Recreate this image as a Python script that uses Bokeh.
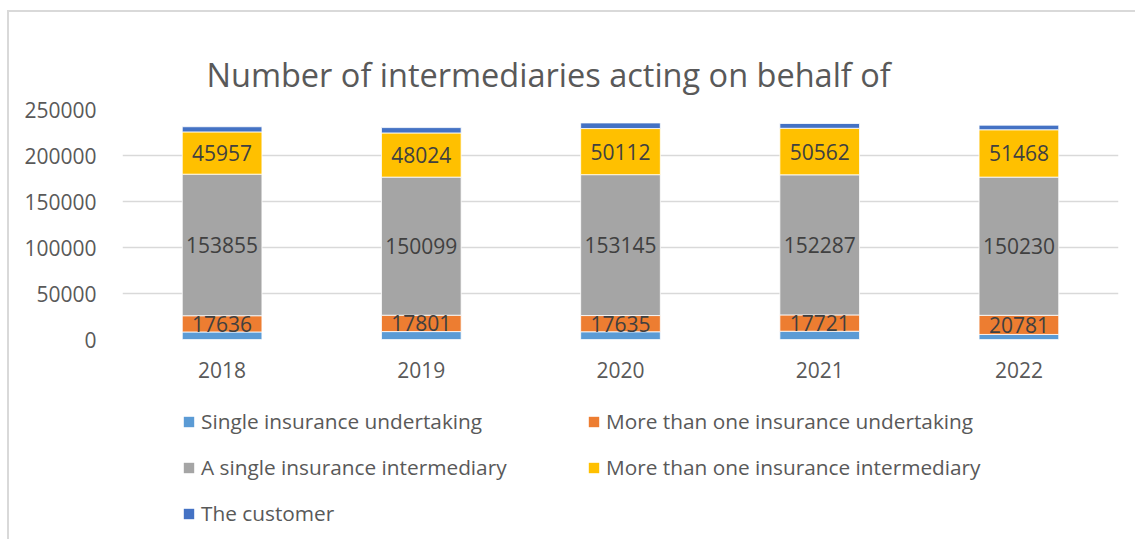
from bokeh.plotting import figure
from bokeh.models import (ColumnDataSource, FixedTicker, Range1d, FactorRange, Legend,
                          LegendItem, LabelSet, Title)
from bokeh.layouts import column
from bokeh.core.properties import value
from bokeh.embed import file_html
from bokeh.resources import INLINE

years = ["2018", "2019", "2020", "2021", "2022"]
single_undertaking = [8200, 8600, 8400, 9000, 5500]
more_undertaking = [17636, 17801, 17635, 17721, 20781]
single_intermediary = [153855, 150099, 153145, 152287, 150230]
more_intermediary = [45957, 48024, 50112, 50562, 51468]
customer = [5600, 5800, 6100, 5200, 5000]

series_names = ["Single insurance undertaking", "More than one insurance undertaking",
                "A single insurance intermediary", "More than one insurance intermediary",
                "The customer"]
keys = ["su", "mu", "si", "mi", "cu"]
colors = ["#5B9BD5", "#ED7D31", "#A5A5A5", "#FFC000", "#4472C4"]
y_ticks = [0, 50000, 100000, 150000, 200000, 250000]

FONT = "Open Sans"

data = dict(years=years, su=single_undertaking, mu=more_undertaking,
            si=single_intermediary, mi=more_intermediary, cu=customer)
source = ColumnDataSource(data)

p = figure(x_range=FactorRange(*years), y_range=Range1d(0, 250000),
           frame_width=996, frame_height=230, output_backend="svg", toolbar_location=None,
           min_border_left=113, min_border_right=17, min_border_top=97,
           min_border_bottom=50)

renderers = p.vbar_stack(keys, x="years", width=0.4, color=colors, source=source,
                         line_color="white", line_width=0.8)

# labels centred in segments
cum = [0] * len(years)
label_cols = {}
stacks = [single_undertaking, more_undertaking, single_intermediary, more_intermediary, customer]
for k, vals in zip(keys, stacks):
    mids = [c + v / 2 for c, v in zip(cum, vals)]
    cum = [c + v for c, v in zip(cum, vals)]
    label_cols[k] = mids

for k, vals in zip(["mu", "si", "mi"], [more_undertaking, single_intermediary, more_intermediary]):
    ls_src = ColumnDataSource(dict(x=years, y=label_cols[k], t=[str(v) for v in vals]))
    p.add_layout(LabelSet(x="x", y="y", text="t", source=ls_src, text_align="center",
                          text_baseline="middle", text_font=value(FONT),
                          text_font_size=value("21px"), text_color=value("#404040")))

p.yaxis.ticker = FixedTicker(ticks=y_ticks)
p.yaxis.axis_line_color = None
p.yaxis.major_tick_line_color = None
p.yaxis.minor_tick_line_color = None
p.yaxis.major_label_standoff = 20
p.yaxis.major_label_text_font = FONT
p.yaxis.major_label_text_font_size = "21px"
p.yaxis.major_label_text_color = "#595959"
p.yaxis.formatter.use_scientific = False

p.xaxis.axis_line_color = None
p.xaxis.major_tick_line_color = None
p.xaxis.minor_tick_line_color = None
p.xaxis.major_label_standoff = 16
p.xaxis.major_label_text_font = FONT
p.xaxis.major_label_text_font_size = "21px"
p.xaxis.major_label_text_color = "#595959"

p.xgrid.grid_line_color = None
p.ygrid.grid_line_color = "#d9d9d9"
p.ygrid.grid_line_width = 1.5
p.outline_line_color = None

title = Title(text="Number of intermediaries acting on behalf of", align="left", offset=84,
              text_font=FONT, text_font_size="32.5px", text_font_style="normal",
              text_color="#595959", standoff=25)
p.add_layout(title, "above")

# legend figure: same series styles on a zero-size helper row, so only the legend shows
helper = ColumnDataSource(dict(years=[years[0]], su=[0], mu=[0], si=[0], mi=[0], cu=[0]))
pl = figure(x_range=FactorRange(*years), y_range=Range1d(-2, -1),
            width=1126, height=150, output_backend="svg", toolbar_location=None,
            min_border=0, min_border_left=0, min_border_right=0, min_border_top=0,
            min_border_bottom=0)
pl.axis.visible = False
pl.grid.visible = False
pl.outline_line_color = None
leg_renderers = pl.vbar_stack(keys, x="years", width=0, fill_color=colors,
                              line_alpha=0, source=helper)

items = [LegendItem(label=n, renderers=[r]) for n, r in zip(series_names, leg_renderers)]
legend = Legend(items=items, ncols=2, location=(60, 12), orientation="horizontal",
                glyph_width=13, glyph_height=13, label_standoff=6, label_width=368,
                spacing=18, padding=0, margin=0, border_line_color=None,
                background_fill_alpha=0, label_text_font=FONT, label_text_font_size="20.8px",
                label_text_color="#595959")
pl.add_layout(legend, "center")

layout = column(p, pl, spacing=0,
                styles={"margin-left": "7px", "margin-top": "10px",
                        "border-left": "2px solid #d9d9d9", "border-top": "2px solid #d9d9d9"})

open("out.html", "w").write(file_html(layout, INLINE))
